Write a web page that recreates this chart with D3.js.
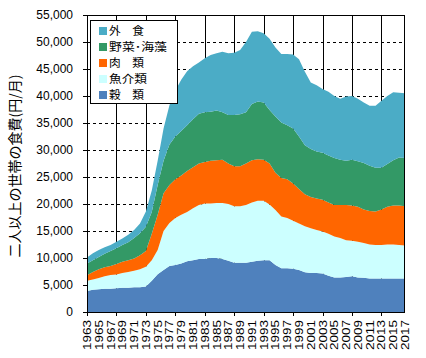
<!DOCTYPE html>
<html><head><meta charset="utf-8">
<script src="https://cdn.jsdelivr.net/npm/d3@7"></script>
<style>body{margin:0;background:#fff} svg{display:block}</style>
</head><body><svg id="c" width="426" height="358"></svg>
<script>
const years = [1963,1964,1965,1966,1967,1968,1969,1970,1971,1972,
  1973,1974,1975,1976,1977,1978,1979,1980,1981,1982,
  1983,1984,1985,1986,1987,1988,1989,1990,1991,1992,
  1993,1994,1995,1996,1997,1998,1999,2000,2001,2002,
  2003,2004,2005,2006,2007,2008,2009,2010,2011,2012,
  2013,2014,2015,2016,2017];
const xTickLabels = ["1963","1965","1967","1969","1971","1973","1975","1977","1979","1981",
  "1983","1985","1987","1989","1991","1993","1995","1997","1999","2001",
  "2003","2005","2007","2009","2011","2013","2015","2017"];
const gridYears = [1968,1973,1978,1983,1988,1993,1998,2003,2008,2013];
const yTicks = [0,5000,10000,15000,20000,25000,30000,35000,40000,45000,50000,55000];

// 穀類
const grain = [3900,4100,4200,4300,4300,4400,4500,4500,4600,4600,
  4700,5800,7000,7800,8500,8700,9000,9400,9600,9800,
  9800,10000,10000,9800,9500,9100,9100,9100,9300,9500,
  9600,9600,8700,8100,8100,8000,7800,7350,7200,7200,
  7150,6700,6400,6400,6500,6600,6400,6350,6200,6200,
  6200,6200,6200,6200,6200];
// 魚介類
const fish = [1900,1900,2100,2300,2550,2550,2700,2900,3050,3300,
  3700,3800,4500,7200,8000,8700,9000,9100,9600,10000,
  10300,10100,10200,10400,10500,10500,10500,10700,11000,11100,
  11000,10300,10200,9600,9300,8900,8600,8550,8300,8000,
  7750,7800,7600,7300,6800,6600,6600,6450,6300,6200,
  6200,6300,6300,6200,6100];
// 肉類
const meat = [1000,1400,1600,1700,1650,1950,2100,2200,2250,2600,
  2900,4900,6500,7000,7000,7200,7300,7600,7600,7700,
  7700,7900,7900,8000,7500,7400,7400,7700,7800,7700,
  7600,7600,6900,7100,7200,6900,6400,5900,5800,5800,
  5900,5800,5800,6100,6500,6500,6500,6200,6200,6200,
  6600,7000,7200,7300,7300];
// 野菜・海藻
const veg = [2200,2200,2300,2500,2800,2900,3100,3300,3800,4100,
  4500,4000,5500,6000,7500,7900,8200,8500,8900,9200,
  9200,9100,9200,8800,9000,9500,9600,9500,10400,10700,
  10600,9900,10400,10300,10000,10200,9700,9100,8900,8700,
  8700,8700,8700,8400,8200,8500,8400,8600,8400,8100,
  7700,7900,8400,8900,8900];
// 外食
const eatOut = [1100,1300,1300,1200,1100,1200,1200,1400,1500,1800,
  2800,4000,4500,6000,7300,8500,9500,10000,9800,9500,
  10000,10500,10600,11200,11400,11500,11900,13000,13400,13000,
  12800,13200,12800,12700,13200,13700,14300,13600,12300,12300,
  11800,11800,11500,11300,11900,11800,11600,11200,11100,11500,
  12400,12600,12600,12000,12000];

const keys = ["grain","fish","meat","veg","eatOut"];
const names = {grain:"穀　類", fish:"魚介類", meat:"肉　類", veg:"野菜･海藻", eatOut:"外　食"};
const colors = {grain:"#4F81BD", fish:"#CCFFFF", meat:"#FF6600", veg:"#339966", eatOut:"#4BACC6"};
const legendWidths = {grain:35, fish:38, meat:35, veg:58, eatOut:35};

const rows = years.map((y,i)=>({year:y, grain:grain[i], fish:fish[i], meat:meat[i], veg:veg[i], eatOut:eatOut[i]}));

const L=87, R=405, T=15, B=312;
const svg = d3.select("#c");
const x = d3.scaleLinear().domain([1963,2017]).range([L,R]);
const y = d3.scaleLinear().domain([0,55000]).range([B,T]);

// gridlines
svg.append("g").selectAll("line").data(yTicks.filter(d=>d>0 && d<55000)).join("line")
  .attr("x1",L).attr("x2",R).attr("y1",d=>Math.round(y(d))+0.5).attr("y2",d=>Math.round(y(d))+0.5)
  .attr("stroke","#000").attr("stroke-dasharray","3,3");
svg.append("g").selectAll("line").data(gridYears).join("line")
  .attr("x1",d=>Math.round(x(d))+0.5).attr("x2",d=>Math.round(x(d))+0.5).attr("y1",T).attr("y2",B)
  .attr("stroke","#000");

// stacked areas
const stack = d3.stack().keys(keys)(rows);
const area = d3.area().x(d=>x(d.data.year)).y0(d=>y(d[0])).y1(d=>y(d[1]));
svg.append("g").selectAll("path").data(stack).join("path")
  .attr("d",area).attr("fill",d=>colors[d.key]);

// frame
svg.append("rect").attr("x",L+0.5).attr("y",T+0.5).attr("width",R-L-1).attr("height",B-T)
  .attr("fill","none").attr("stroke","#000");
svg.append("line").attr("x1",L+0.5).attr("x2",L+0.5).attr("y1",T).attr("y2",B+0.5).attr("stroke","#000");
svg.append("line").attr("x1",L).attr("x2",R).attr("y1",B+0.5).attr("y2",B+0.5).attr("stroke","#000");

// y axis ticks and labels
const yg = svg.append("g");
yg.selectAll("line").data(yTicks).join("line")
  .attr("x1",L-4).attr("x2",L).attr("y1",d=>Math.round(y(d))+0.5).attr("y2",d=>Math.round(y(d))+0.5).attr("stroke","#000");
yg.selectAll("text").data(yTicks).join("text")
  .attr("x",73).attr("y",d=>y(d)).attr("dy","0.36em").attr("text-anchor","end")
  .attr("font-family","'Liberation Sans',Arial,sans-serif").attr("font-size","12px").attr("fill","#000")
  .text(d=>d3.format(",")(d));

// x axis ticks and labels
const xg = svg.append("g");
xg.selectAll("line").data([1963].concat(gridYears)).join("line")
  .attr("x1",d=>Math.round(x(d))+0.5).attr("x2",d=>Math.round(x(d))+0.5).attr("y1",B).attr("y2",B+4).attr("stroke","#000");
xg.selectAll("text").data(xTickLabels).join("text")
  .attr("transform",d=>`translate(${x(+d)+4},${320}) rotate(-90)`)
  .attr("text-anchor","end")
  .attr("font-family","'Liberation Sans',Arial,sans-serif").attr("font-size","10px").attr("fill","#000")
  .attr("textLength",30).attr("lengthAdjust","spacingAndGlyphs")
  .text(d=>d);

// y title
svg.append("text").attr("transform","translate(20,166) rotate(-90)").attr("text-anchor","middle")
  .attr("font-family","'Noto Sans CJK JP',sans-serif").attr("font-size","14px").attr("fill","#000")
  .text("二人以上の世帯の食費(円/月)");

// legend
const lg = svg.append("g");
lg.append("rect").attr("x",90.5).attr("y",20.5).attr("width",87).attr("height",83)
  .attr("fill","#fff").attr("stroke","#000");
const legKeys = ["eatOut","veg","meat","fish","grain"];
legKeys.forEach((k,i)=>{
  const cy = 31 + i*16;
  lg.append("rect").attr("x",99).attr("y",cy-4).attr("width",8).attr("height",8).attr("fill",colors[k]);
  lg.append("text").attr("x",109).attr("y",cy).attr("dy","0.38em")
    .attr("font-family","'Noto Sans CJK JP',sans-serif").attr("font-size","11px").attr("fill","#000")
    .attr("textLength",legendWidths[k]).attr("lengthAdjust","spacingAndGlyphs")
    .text(names[k]);
});
</script></body></html>
